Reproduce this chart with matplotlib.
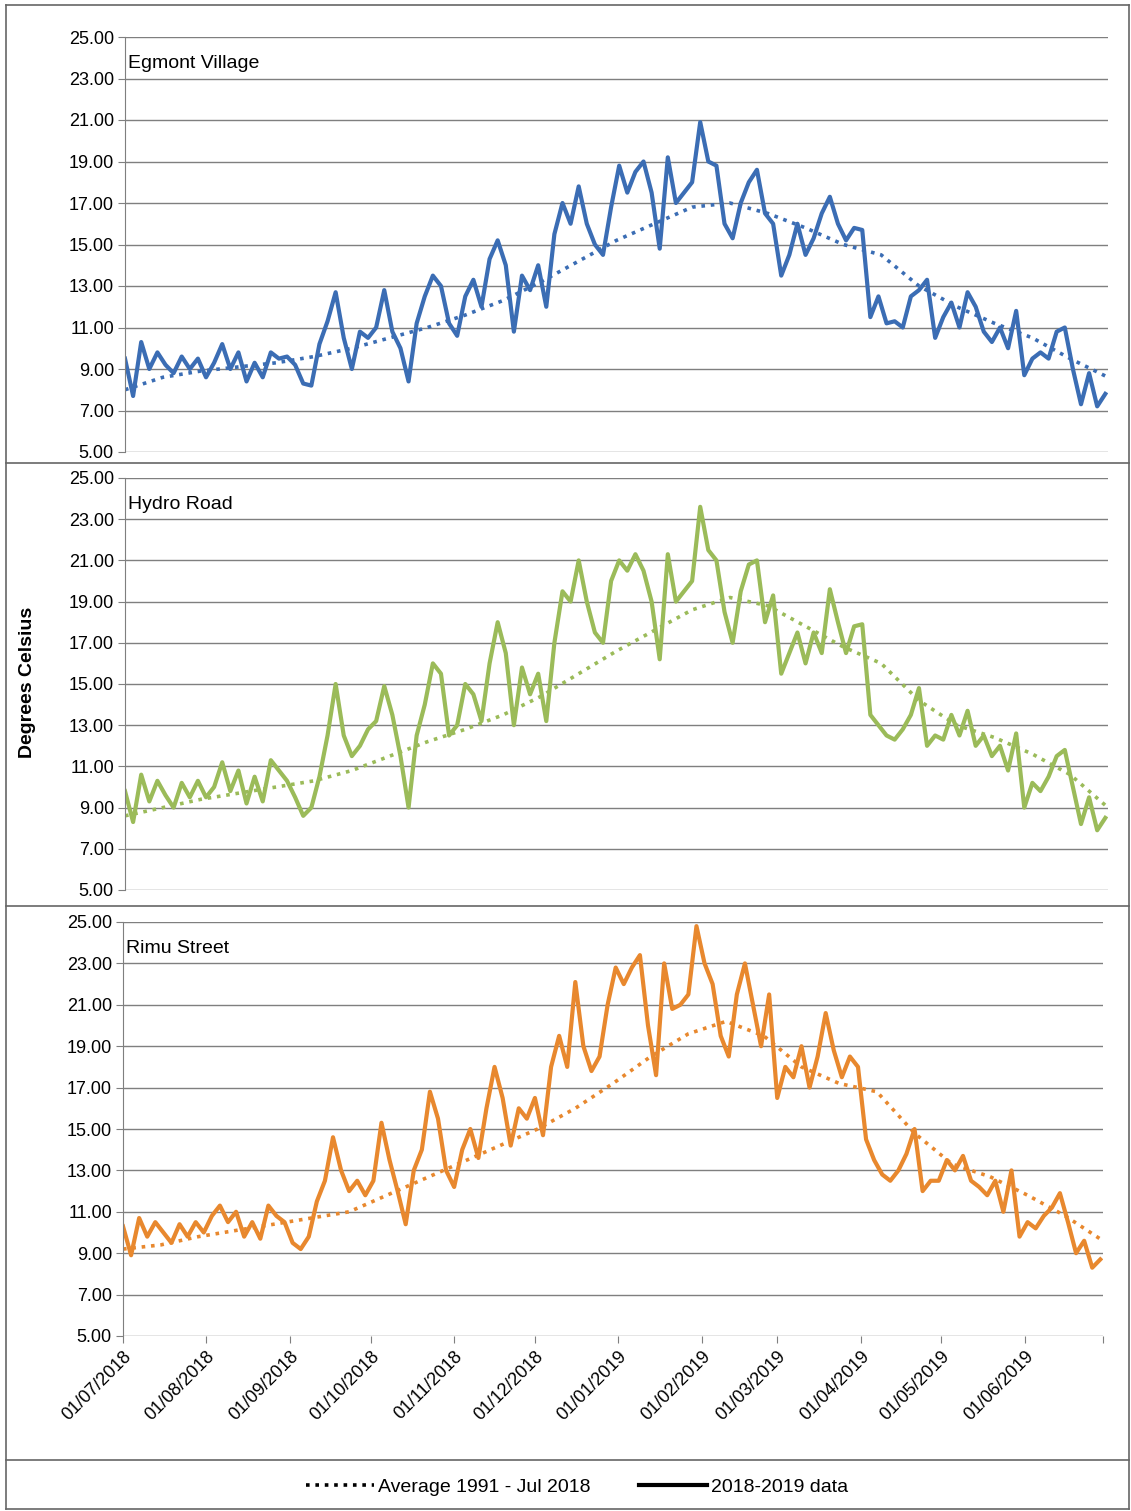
import matplotlib
matplotlib.use("Agg")
import matplotlib.pyplot as plt
from matplotlib.lines import Line2D
import numpy as np

plt.rcParams["font.family"] = ["Liberation Sans", "DejaVu Sans"]

# daily series sampled every 3 days (day 0 = 01/07/2018)
DAYS = np.arange(0, 366, 3)
# long-term average sampled every 14 days
AVG_DAYS = np.arange(0, 365, 14)

egmont = [9.5, 7.7, 10.3, 9.0, 9.8, 9.2, 8.8, 9.6, 9.0, 9.5, 8.6,
          9.3, 10.2, 9.0, 9.8, 8.4, 9.3, 8.6, 9.8, 9.5, 9.6,
          9.2, 8.3, 8.2, 10.2, 11.3, 12.7, 10.5, 9.0, 10.8, 10.5,
          11.0, 12.8, 10.8, 10.0, 8.4, 11.2, 12.5, 13.5, 13.0, 11.2,
          10.6, 12.5, 13.3, 12.0, 14.3, 15.2, 14.0, 10.8, 13.5, 12.8,
          14.0, 12.0, 15.5, 17.0, 16.0, 17.8, 16.0, 15.0, 14.5, 16.8,
          18.8, 17.5, 18.5, 19.0, 17.5, 14.8, 19.2, 17.0, 17.5, 18.0,
          20.9, 19.0, 18.8, 16.0, 15.3, 17.0, 18.0, 18.6, 16.5, 16.0,
          13.5, 14.5, 16.0, 14.5, 15.3, 16.5, 17.3, 16.0, 15.2, 15.8,
          15.7, 11.5, 12.5, 11.2, 11.3, 11.0, 12.5, 12.8, 13.3, 10.5,
          11.5, 12.2, 11.0, 12.7, 12.0, 10.8, 10.3, 11.0, 10.0, 11.8,
          8.7, 9.5, 9.8, 9.5, 10.8, 11.0, 9.0, 7.3, 8.8, 7.2, 7.8]
hydro = [9.8, 8.3, 10.6, 9.3, 10.3, 9.6, 9.0, 10.2, 9.5, 10.3, 9.5,
         10.0, 11.2, 9.8, 10.8, 9.2, 10.5, 9.3, 11.3, 10.8, 10.3,
         9.5, 8.6, 9.0, 10.5, 12.5, 15.0, 12.5, 11.5, 12.0, 12.8,
         13.2, 14.9, 13.5, 11.5, 9.0, 12.5, 14.0, 16.0, 15.5, 12.5,
         13.0, 15.0, 14.5, 13.2, 16.0, 18.0, 16.5, 13.0, 15.8, 14.5,
         15.5, 13.2, 17.0, 19.5, 19.0, 21.0, 19.0, 17.5, 17.0, 20.0,
         21.0, 20.5, 21.3, 20.5, 19.0, 16.2, 21.3, 19.0, 19.5, 20.0,
         23.6, 21.5, 21.0, 18.5, 17.0, 19.5, 20.8, 21.0, 18.0, 19.3,
         15.5, 16.5, 17.5, 16.0, 17.5, 16.5, 19.6, 18.0, 16.5, 17.8,
         17.9, 13.5, 13.0, 12.5, 12.3, 12.8, 13.5, 14.8, 12.0, 12.5,
         12.3, 13.5, 12.5, 13.7, 12.0, 12.5, 11.5, 12.0, 10.8, 12.6,
         9.0, 10.2, 9.8, 10.5, 11.5, 11.8, 10.0, 8.2, 9.5, 7.9, 8.5]
rimu = [10.3, 8.9, 10.7, 9.8, 10.5, 10.0, 9.5, 10.4, 9.8, 10.5, 10.0,
        10.8, 11.3, 10.5, 11.0, 9.8, 10.5, 9.7, 11.3, 10.8, 10.5,
        9.5, 9.2, 9.8, 11.5, 12.5, 14.6, 13.0, 12.0, 12.5, 11.8,
        12.5, 15.3, 13.5, 12.0, 10.4, 13.0, 14.0, 16.8, 15.5, 13.0,
        12.2, 14.0, 15.0, 13.6, 16.0, 18.0, 16.5, 14.2, 16.0, 15.5,
        16.5, 14.7, 18.0, 19.5, 18.0, 22.1, 19.0, 17.8, 18.5, 21.0,
        22.8, 22.0, 22.8, 23.4, 20.0, 17.6, 23.0, 20.8, 21.0, 21.5,
        24.8, 23.0, 22.0, 19.5, 18.5, 21.5, 23.0, 21.0, 19.0, 21.5,
        16.5, 18.0, 17.5, 19.0, 17.0, 18.5, 20.6, 18.8, 17.5, 18.5,
        18.0, 14.5, 13.5, 12.8, 12.5, 13.0, 13.8, 15.0, 12.0, 12.5,
        12.5, 13.5, 13.0, 13.7, 12.5, 12.2, 11.8, 12.5, 11.0, 13.0,
        9.8, 10.5, 10.2, 10.8, 11.2, 11.9, 10.5, 9.0, 9.6, 8.3, 8.7]

egmont_avg = [8.0, 8.6, 8.9, 9.1, 9.3, 9.6, 10.0, 10.5, 11.0, 11.6, 12.3, 13.2, 14.2, 15.2,
              16.0, 16.8, 17.0, 16.5, 15.8, 15.0, 14.5, 13.0, 12.0, 11.2, 10.5, 9.5, 8.6]
hydro_avg = [8.6, 9.0, 9.4, 9.7, 10.0, 10.3, 10.8, 11.5, 12.2, 12.8, 13.5, 14.4, 15.5, 16.6,
             17.6, 18.6, 19.2, 18.8, 17.8, 16.8, 16.0, 14.2, 13.0, 12.4, 11.6, 10.6, 9.0]
rimu_avg = [9.2, 9.4, 9.8, 10.1, 10.4, 10.7, 11.0, 11.8, 12.6, 13.4, 14.2, 15.0, 16.0, 17.2,
            18.5, 19.6, 20.2, 19.5, 18.0, 17.2, 16.8, 14.8, 13.3, 12.7, 11.8, 10.8, 9.6]

SITES = ["Egmont Village", "Hydro Road", "Rimu Street"]
COLORS = ["#3b6db4", "#9bbb59", "#e8882e"]

MONTH_DAYS = [0, 31, 62, 92, 123, 153, 184, 215, 243, 274, 304, 335]
MONTH_LABELS = ["01/07/2018", "01/08/2018", "01/09/2018", "01/10/2018", "01/11/2018",
                "01/12/2018", "01/01/2019", "01/02/2019", "01/03/2019", "01/04/2019",
                "01/05/2019", "01/06/2019"]

W, H = 1131, 1511
fig = plt.figure(figsize=(W / 100, H / 100), dpi=100)

# axes boxes in pixels: (left, top, right, bottom)
boxes = [(125, 37, 1108, 452), (125, 478, 1108, 890), (123, 922, 1103, 1336)]
series = [(egmont, egmont_avg), (hydro, hydro_avg), (rimu, rimu_avg)]

for k, ((l, t, r, b), (data, avg)) in enumerate(zip(boxes, series)):
    ax = fig.add_axes([l / W, 1 - b / H, (r - l) / W, (b - t) / H])
    ax.plot(AVG_DAYS, avg, ls=(0, (1, 1.6)), lw=2.6, color=COLORS[k])
    ax.plot(DAYS, data, lw=3, color=COLORS[k])
    ax.set_xlim(0, 364)
    ax.set_ylim(5, 25)
    ax.set_yticks(np.arange(5, 26, 2))
    ax.set_yticklabels([f"{v:.2f}" for v in np.arange(5, 26, 2)], fontsize=13)
    ax.yaxis.grid(True, color="#7f7f7f", lw=1)
    ax.set_axisbelow(True)
    for s in ["top", "right", "bottom"]:
        ax.spines[s].set_visible(False)
    ax.spines["left"].set_color("#7f7f7f")
    ax.tick_params(axis="y", length=5, color="#7f7f7f", pad=3)
    ax.text(0.003, 0.935, SITES[k], transform=ax.transAxes, fontsize=14,
            ha="left", va="center", family=["Liberation Sans Narrow", "Liberation Sans"])
    if k == 2:
        ax.set_xticks(MONTH_DAYS + [364])
        ax.set_xticklabels(MONTH_LABELS + [""], rotation=45, ha="right",
                           rotation_mode="anchor", fontsize=13)
        ax.tick_params(axis="x", length=5, color="#7f7f7f")
    else:
        ax.set_xticks([])

fig.text(28 / W, 1 - 682 / H, "Degrees Celsius", rotation=90, fontsize=14,
         fontweight="bold", ha="center", va="center")

# panel separators and outer frame
for y in [5, 463, 906, 1460, 1509]:
    fig.add_artist(Line2D([0.005, 0.998], [1 - y / H] * 2, color="#666666", lw=1.2))
for x in [0.005, 0.998]:
    fig.add_artist(Line2D([x, x], [1 - 1509 / H, 1 - 5 / H], color="#666666", lw=1.2))

handles = [Line2D([], [], color="black", ls=(0, (1, 1.6)), lw=2.6),
           Line2D([], [], color="black", lw=3)]
fig.legend(handles, ["Average 1991 - Jul 2018", "2018-2019 data"], loc="center",
           bbox_to_anchor=(0.51, 1 - 1487 / H), ncol=2, frameon=False, fontsize=14,
           handlelength=3.5, columnspacing=2.5, handletextpad=0.2)

fig.savefig("out.png", dpi=100)
